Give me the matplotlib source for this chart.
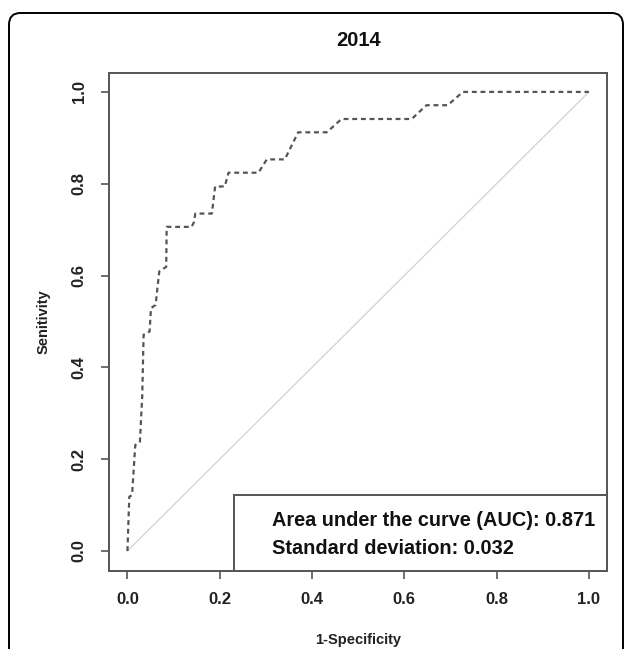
import matplotlib
matplotlib.use("Agg")
import matplotlib.pyplot as plt
from matplotlib.patches import Rectangle, FancyBboxPatch

plt.rcParams['font.family'] = ['Liberation Sans', 'DejaVu Sans']

# ROC curve points
fpr = [0.0, 0.004, 0.010, 0.017, 0.027, 0.032, 0.035, 0.048, 0.051, 0.061,
       0.069, 0.084, 0.085, 0.139, 0.144, 0.147, 0.183, 0.190, 0.211, 0.219,
       0.284, 0.302, 0.341, 0.370, 0.432, 0.464, 0.616, 0.648, 0.694, 0.727, 1.0]
tpr = [0.0, 0.118, 0.122, 0.231, 0.238, 0.336, 0.471, 0.478, 0.529, 0.536,
       0.609, 0.619, 0.706, 0.706, 0.716, 0.735, 0.735, 0.794, 0.794, 0.824,
       0.824, 0.853, 0.853, 0.912, 0.912, 0.941, 0.941, 0.971, 0.971, 1.0, 1.0]

ticks = [0.0, 0.2, 0.4, 0.6, 0.8, 1.0]
auc_text = "Area under the curve (AUC): 0.871"
sd_text = "Standard deviation: 0.032"

fig = plt.figure(figsize=(6.3, 6.49), dpi=100)

# rounded frame around the whole panel
frame = FancyBboxPatch((9 / 630, -0.1), 614 / 630, (649 - 13) / 649 + 0.1,
                       boxstyle="round,pad=0,rounding_size=0.018",
                       transform=fig.transFigure, fill=False,
                       edgecolor="black", linewidth=1.4)
fig.patches.append(frame)

ax = fig.add_axes([0.173, 0.1206, 0.791, 0.7675])
ax.set_xlim(-0.04, 1.04)
ax.set_ylim(-0.043, 1.042)

# chance line
ax.plot([0, 1], [0, 1], color="#d2d2d2", linewidth=0.9)
# ROC curve
ax.plot(fpr, tpr, color="#555555", linewidth=1.6, linestyle=(0, (2.2, 1.7)))

for s in ax.spines.values():
    s.set_color("#555555")
    s.set_linewidth(1.4)

ax.set_xticks(ticks)
ax.set_yticks(ticks)
ax.set_xticklabels(["%.1f" % t for t in ticks], fontsize=12, fontweight="bold")
ax.set_yticklabels(["%.1f" % t for t in ticks], fontsize=12, rotation=90,
                   va="center", fontweight="bold")
ax.tick_params(axis="both", direction="out", length=6, width=1.2,
               color="#555555", labelcolor="#222222")
ax.tick_params(axis="x", pad=9)
ax.tick_params(axis="y", pad=10)

ax.set_title("2014", fontsize=14.5, fontweight="bold", pad=19, color="#111111")
ax.set_xlabel("1-Specificity", fontsize=10.5, fontweight="bold", labelpad=19,
              color="#222222")
ax.set_ylabel("Senitivity", fontsize=10.5, fontweight="bold", labelpad=15,
              color="#222222")

# AUC box
box = Rectangle((0.2515, 0.0), 1 - 0.2515, 0.152, transform=ax.transAxes,
                fill=True, facecolor="white", edgecolor="#555555",
                linewidth=1.4, clip_on=False, zorder=3)
ax.add_patch(box)
ax.text(0.327, 0.0898, auc_text, transform=ax.transAxes, fontsize=14.3,
        fontweight="bold", va="baseline", ha="left", color="#111111", zorder=4)
ax.text(0.327, 0.0345, sd_text, transform=ax.transAxes, fontsize=14.3,
        fontweight="bold", va="baseline", ha="left", color="#111111", zorder=4)

fig.savefig("out.png", dpi=100)
